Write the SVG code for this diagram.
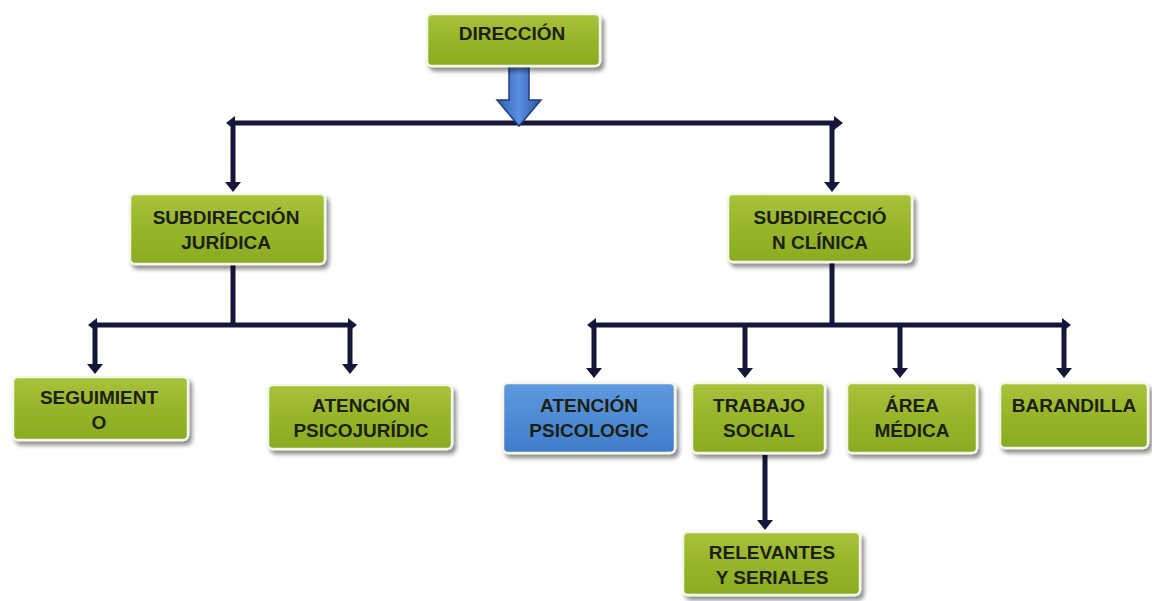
<svg xmlns="http://www.w3.org/2000/svg" width="1152" height="601" viewBox="0 0 1152 601">
<defs>
<linearGradient id="g" x1="0" y1="0" x2="0" y2="1">
<stop offset="0" stop-color="#a9c23c"/>
<stop offset="0.5" stop-color="#97b52a"/>
<stop offset="1" stop-color="#8aab22"/>
</linearGradient>
<linearGradient id="b" x1="0" y1="0" x2="0" y2="1">
<stop offset="0" stop-color="#5f9ae0"/>
<stop offset="1" stop-color="#3f7cc8"/>
</linearGradient>
<linearGradient id="ba" x1="0" y1="0" x2="1" y2="0">
<stop offset="0" stop-color="#2f5fb0"/>
<stop offset="0.5" stop-color="#5b8fe0"/>
<stop offset="1" stop-color="#2a55a0"/>
</linearGradient>
<filter id="sh" x="-10%" y="-10%" width="130%" height="140%">
<feGaussianBlur in="SourceAlpha" stdDeviation="2"/>
<feOffset dx="3" dy="4" result="o"/>
<feComponentTransfer><feFuncA type="linear" slope="0.45"/></feComponentTransfer>
<feMerge><feMergeNode/><feMergeNode in="SourceGraphic"/></feMerge>
</filter>
</defs>
<style>
.n rect.box{fill:url(#g);stroke:#f4f6e8;stroke-width:2.5;filter:url(#sh)}
.n rect.blue{fill:url(#b)}
.n text{font-family:"Liberation Sans",Arial,sans-serif;font-weight:bold;font-size:19px;fill:#1c1f14;text-anchor:middle}
.c line,.c path{stroke:#16163a;stroke-width:5;fill:none}
.c .hd{fill:#16163a;stroke:none}
</style>
<rect width="1152" height="601" fill="#ffffff"/>

<g class="c" id="connectors">
<line x1="233" y1="123" x2="836" y2="123"/>
<line x1="233" y1="121" x2="233" y2="184"/>
<line x1="832" y1="121" x2="832" y2="184"/>
<path class="hd" d="M226,123 L235,116 L235,130 Z"/>
<path class="hd" d="M843,123 L834,116 L834,130 Z"/>
<path class="hd" d="M225,182 L241,182 L233,192 Z"/>
<path class="hd" d="M824,182 L840,182 L832,192 Z"/>

<line x1="233" y1="264" x2="233" y2="325"/>
<line x1="95" y1="325" x2="350" y2="325"/>
<line x1="95" y1="323" x2="95" y2="366"/>
<line x1="350" y1="323" x2="350" y2="366"/>
<path class="hd" d="M88,325 L97,318 L97,332 Z"/>
<path class="hd" d="M357,325 L348,318 L348,332 Z"/>
<path class="hd" d="M87,364 L103,364 L95,374 Z"/>
<path class="hd" d="M342,364 L358,364 L350,374 Z"/>

<line x1="832" y1="262" x2="832" y2="325"/>
<line x1="594" y1="325" x2="1064" y2="325"/>
<line x1="594" y1="323" x2="594" y2="370"/>
<line x1="745" y1="323" x2="745" y2="370"/>
<line x1="900" y1="323" x2="900" y2="370"/>
<line x1="1064" y1="323" x2="1064" y2="370"/>
<path class="hd" d="M587,325 L596,318 L596,332 Z"/>
<path class="hd" d="M1071,325 L1062,318 L1062,332 Z"/>
<path class="hd" d="M586,368 L602,368 L594,378 Z"/>
<path class="hd" d="M737,368 L753,368 L745,378 Z"/>
<path class="hd" d="M892,368 L908,368 L900,378 Z"/>
<path class="hd" d="M1056,368 L1072,368 L1064,378 Z"/>

<line x1="765" y1="455" x2="765" y2="522"/>
<path class="hd" d="M757,520 L773,520 L765,530 Z"/>

<path d="M509,66 L529,66 L529,100 L541,100 L519,126 L497,100 L509,100 Z" style="fill:url(#ba);stroke:#1e3f80;stroke-width:1.5"/>
</g>

<g class="n" id="direccion">
<rect class="box" x="427" y="14" width="173" height="52" rx="5"/>
<text x="512" y="40">DIRECCIÓN</text>
</g>

<g class="n" id="sub-juridica">
<rect class="box" x="130" y="194" width="195" height="70" rx="5"/>
<text x="226" y="224">SUBDIRECCIÓN</text>
<text x="226" y="249">JURÍDICA</text>
</g>

<g class="n" id="sub-clinica">
<rect class="box" x="728" y="194" width="184" height="68" rx="5"/>
<text x="820" y="224">SUBDIRECCIÓ</text>
<text x="820" y="249">N CLÍNICA</text>
</g>

<g class="n" id="seguimiento">
<rect class="box" x="13" y="377" width="175" height="63" rx="5"/>
<text x="99" y="404">SEGUIMIENT</text>
<text x="99" y="429">O</text>
</g>

<g class="n" id="atencion-psicojuridic">
<rect class="box" x="268" y="385" width="184" height="64" rx="5"/>
<text x="361" y="412">ATENCIÓN</text>
<text x="361" y="437">PSICOJURÍDIC</text>
</g>

<g class="n" id="atencion-psicologic">
<rect class="box blue" x="503" y="383" width="172" height="70" rx="5"/>
<text x="589" y="412">ATENCIÓN</text>
<text x="589" y="437">PSICOLOGIC</text>
</g>

<g class="n" id="trabajo-social">
<rect class="box" x="692" y="383" width="133" height="70" rx="5"/>
<text x="759" y="412">TRABAJO</text>
<text x="759" y="437">SOCIAL</text>
</g>

<g class="n" id="area-medica">
<rect class="box" x="847" y="383" width="130" height="70" rx="5"/>
<text x="912" y="412">ÁREA</text>
<text x="912" y="437">MÉDICA</text>
</g>

<g class="n" id="barandilla">
<rect class="box" x="1000" y="383" width="148" height="65" rx="5"/>
<text x="1074" y="412">BARANDILLA</text>
</g>

<g class="n" id="relevantes">
<rect class="box" x="683" y="532" width="177" height="63" rx="5"/>
<text x="772" y="559">RELEVANTES</text>
<text x="772" y="584">Y SERIALES</text>
</g>
</svg>
